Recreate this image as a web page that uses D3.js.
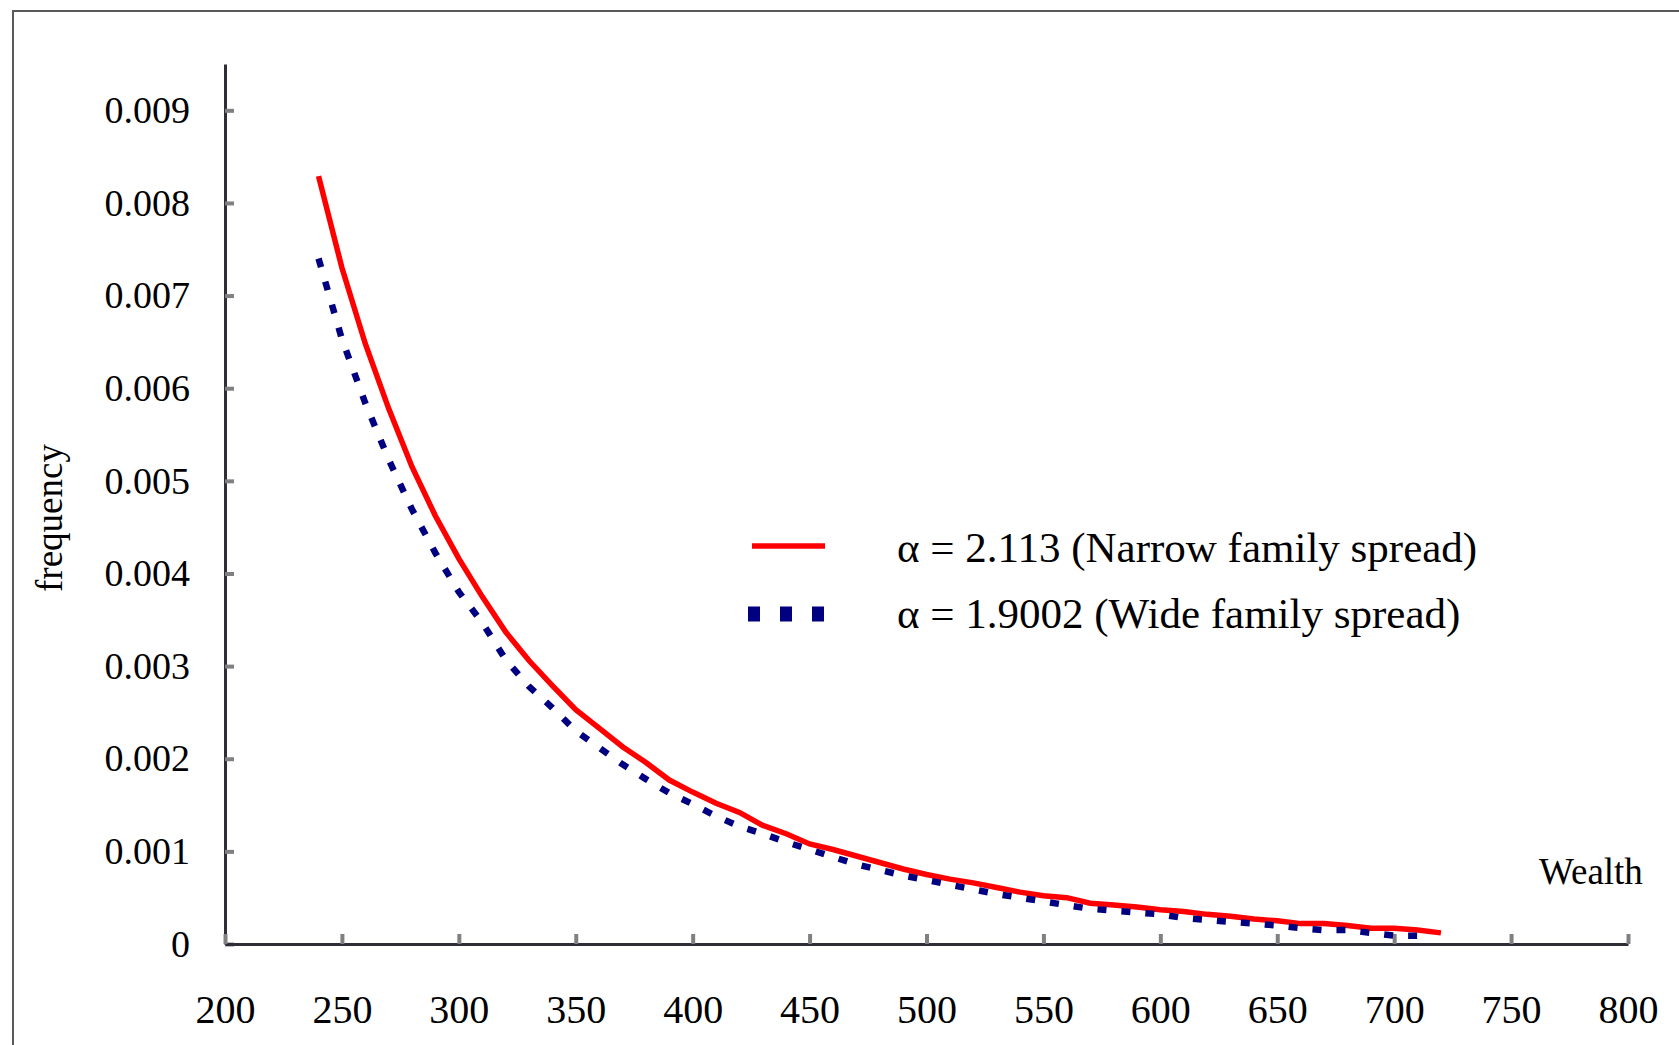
<!DOCTYPE html>
<html>
<head>
<meta charset="utf-8">
<script src="https://cdn.jsdelivr.net/npm/d3@7"></script>
<style>
  html, body { margin: 0; padding: 0; background: #fff; }
  svg { display: block; font-family: "Liberation Serif", "Times New Roman", serif; }
</style>
</head>
<body>
<div class="chart"></div>
<script>
// data (frequency in units of 0.001)
var wealthNarrow = [240, 250, 260, 270, 280, 290, 300, 310, 320, 330, 340, 350, 360, 370, 380, 390, 400,
    410, 420, 430, 440, 450, 460, 470, 480, 490, 500, 510, 520, 530, 540, 550, 560, 570, 580, 590, 600,
    610, 620, 630, 640, 650, 660, 670, 680, 690, 700, 710, 720];
var freqNarrow = [8.29, 7.30, 6.48, 5.78, 5.15, 4.62, 4.16, 3.75, 3.37, 3.06, 2.79, 2.53, 2.33, 2.13, 1.96, 1.77, 1.64,
    1.52, 1.42, 1.28, 1.19, 1.08, 1.02, 0.95, 0.88, 0.81, 0.75, 0.70, 0.66, 0.61, 0.56, 0.52, 0.50, 0.44, 0.42, 0.40, 0.37,
    0.35, 0.32, 0.30, 0.27, 0.25, 0.22, 0.22, 0.20, 0.17, 0.17, 0.15, 0.12];

var wealthWide = [240, 250, 260, 270, 280, 290, 300, 310, 320, 330, 340, 350, 360, 370, 380, 390, 400,
    410, 420, 430, 440, 450, 460, 470, 480, 490, 500, 510, 520, 530, 540, 550, 560, 570, 580, 590, 600,
    610, 620, 630, 640, 650, 660, 670, 680, 690, 700, 710];
var freqWide = [7.40, 6.53, 5.84, 5.23, 4.69, 4.22, 3.80, 3.47, 3.07, 2.78, 2.55, 2.30, 2.12, 1.94, 1.78, 1.63, 1.51,
    1.38, 1.27, 1.19, 1.10, 1.02, 0.94, 0.86, 0.80, 0.74, 0.69, 0.64, 0.59, 0.54, 0.50, 0.46, 0.42, 0.38, 0.36, 0.34, 0.32,
    0.28, 0.26, 0.24, 0.22, 0.20, 0.17, 0.15, 0.15, 0.12, 0.09, 0.09];

var xTicks = [200, 250, 300, 350, 400, 450, 500, 550, 600, 650, 700, 750, 800];
var yTicks = [0, 0.001, 0.002, 0.003, 0.004, 0.005, 0.006, 0.007, 0.008, 0.009];
var yTickLabels = ['0', '0.001', '0.002', '0.003', '0.004', '0.005', '0.006', '0.007', '0.008', '0.009'];

var seriesLabels = ['\u03b1 = 2.113 (Narrow family spread)', '\u03b1 = 1.9002 (Wide family spread)'];

var width = 1679, height = 1045;

var svg = d3.select('.chart').append('svg')
    .attr('width', width)
    .attr('height', height);

// outer frame
svg.append('rect')
    .attr('x', 13).attr('y', 11)
    .attr('width', width + 20).attr('height', height + 20)
    .attr('fill', 'none')
    .attr('stroke', '#5a5a5a')
    .attr('stroke-width', 2);

// scales
var x = d3.scaleLinear().domain([200, 800]).range([225, 1628]);
var y = d3.scaleLinear().domain([0, 0.0095]).range([944, 64]);

// y axis
var yAxis = svg.append('g')
    .attr('transform', 'translate(225,0)')
    .call(d3.axisLeft(y)
        .tickValues(yTicks)
        .tickFormat(function (d, i) { return yTickLabels[i]; })
        .tickSizeInner(-9)
        .tickSizeOuter(0)
        .tickPadding(35));

// x axis
var xAxis = svg.append('g')
    .attr('transform', 'translate(0,944)')
    .call(d3.axisBottom(x)
        .tickValues(xTicks)
        .tickFormat(d3.format('d'))
        .tickSizeInner(-10)
        .tickSizeOuter(0)
        .tickPadding(79));

[yAxis, xAxis].forEach(function (ax) {
    ax.select('.domain').attr('stroke', '#2e2e38').attr('stroke-width', 3);
    ax.selectAll('.tick line').attr('stroke', '#808080').attr('stroke-width', 4);
    ax.selectAll('.tick text')
        .attr('fill', '#000')
        .style('font-family', '"Liberation Serif", "Times New Roman", serif');
});
yAxis.selectAll('.tick text').style('font-size', '38px');
xAxis.selectAll('.tick text').style('font-size', '40px').attr('dy', 0);

// lines
var line = d3.line()
    .x(function (d) { return x(d[0]); })
    .y(function (d) { return y(d[1] / 1000); });

svg.append('path')
    .datum(d3.zip(wealthNarrow, freqNarrow))
    .attr('fill', 'none')
    .attr('stroke', '#ff0000')
    .attr('stroke-width', 5.5)
    .attr('d', line);

svg.append('path')
    .datum(d3.zip(wealthWide, freqWide))
    .attr('fill', 'none')
    .attr('stroke', '#000080')
    .attr('stroke-width', 6.5)
    .attr('stroke-dasharray', '9,15')
    .attr('d', line);

// axis titles
svg.append('text')
    .attr('transform', 'translate(62,518) rotate(-90)')
    .attr('text-anchor', 'middle')
    .style('font-size', '37px')
    .text('frequency');

svg.append('text')
    .attr('x', 1539).attr('y', 884)
    .style('font-size', '37px')
    .text('Wealth');

// legend
var legend = svg.append('g');
legend.append('line')
    .attr('x1', 752).attr('x2', 825)
    .attr('y1', 546).attr('y2', 546)
    .attr('stroke', '#ff0000')
    .attr('stroke-width', 5.5);
legend.append('line')
    .attr('x1', 748).attr('x2', 828)
    .attr('y1', 614).attr('y2', 614)
    .attr('stroke', '#000080')
    .attr('stroke-width', 15)
    .attr('stroke-dasharray', '12,20');
legend.selectAll('text.lab')
    .data(seriesLabels)
    .enter().append('text')
    .attr('class', 'lab')
    .attr('x', 897)
    .attr('y', function (d, i) { return 562 + i * 66; })
    .style('font-size', '43px')
    .text(function (d) { return d; });
</script>
</body>
</html>
